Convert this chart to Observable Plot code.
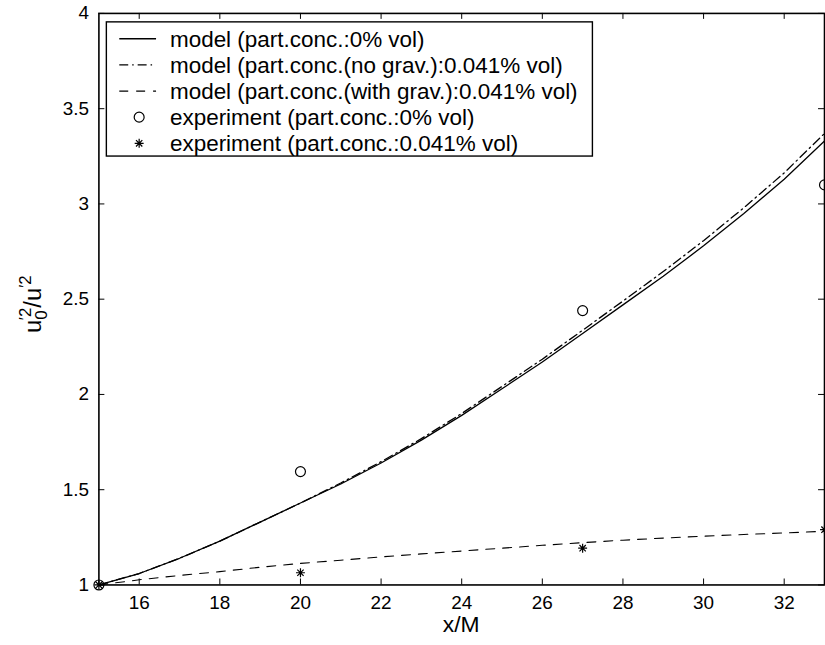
<!DOCTYPE html>
<html><head><meta charset="utf-8">
<script src="https://cdn.jsdelivr.net/npm/d3@7"></script>
<script src="https://cdn.jsdelivr.net/npm/@observablehq/plot@0.6"></script>
<style>
html,body{margin:0;padding:0;background:#fff;overflow:hidden;}
#chart{width:825px;height:645px;overflow:hidden;position:relative;}
#chart svg{display:block;}
</style></head><body><div id="chart"></div>
<script>
// ---- data ----
const xModel = [15,16,17,18,19,20,21,22,23,24,25,26,27,28,29,30,31,32,33];
const ySolid = [1.00,1.06,1.14,1.23,1.33,1.43,1.53,1.64,1.76,1.89,2.03,2.17,2.32,2.47,2.62,2.78,2.95,3.13,3.33];
const yNoGrav = [1.00,1.06,1.14,1.23,1.33,1.43,1.535,1.647,1.768,1.90,2.042,2.185,2.337,2.49,2.645,2.807,2.98,3.163,3.37];
const yWithGrav = [1.00,1.027,1.05,1.07,1.093,1.113,1.13,1.147,1.163,1.178,1.193,1.208,1.222,1.235,1.246,1.256,1.265,1.273,1.282];
const xExp = [15,20,27,33];
const yExp0 = [1.00,1.595,2.44,3.10];
const yExp041 = [1.00,1.064,1.193,1.29];
const xTicks = [16,18,20,22,24,26,28,30,32];
const yTicks = [1,1.5,2,2.5,3,3.5,4];
const xLabel = "x/M";
const legendLabels = [
  "model (part.conc.:0% vol)",
  "model (part.conc.(no grav.):0.041% vol)",
  "model (part.conc.(with grav.):0.041% vol)",
  "experiment (part.conc.:0% vol)",
  "experiment (part.conc.:0.041% vol)"
];

// ---- layout ----
const W = 830, H = 645, mL = 99, mR = 1, mT = 13, mB = 57;
const plotW = W - mL - mR, plotH = H - mT - mB, TK = 6;
const FONT = "'Liberation Sans', Arial, Helvetica, sans-serif";
const DASH = "9,8", DASHDOT = "9,4,1.5,4";

const asterisk8 = {draw(ctx, size){
  const r = Math.sqrt(size/Math.PI), d = r*Math.SQRT1_2;
  ctx.moveTo(-r,0);ctx.lineTo(r,0);ctx.moveTo(0,-r);ctx.lineTo(0,r);
  ctx.moveTo(-d,-d);ctx.lineTo(d,d);ctx.moveTo(-d,d);ctx.lineTo(d,-d);
}};

const model = xModel.map((x,i)=>({x, s:ySolid[i], n:yNoGrav[i], g:yWithGrav[i]}));
const exp0 = xExp.map((x,i)=>({x, y:yExp0[i]}));
const exp1 = xExp.map((x,i)=>({x, y:yExp041[i]}));

const chart = Plot.plot({
  width: W, height: H,
  marginLeft: mL, marginRight: mR, marginTop: mT, marginBottom: mB,
  style: {fontFamily: FONT, fontSize: "19px", background: "white", color: "black", overflow: "visible"},
  x: {domain: [15,33]},
  y: {domain: [1,4]},
  marks: [
    Plot.line(model, {x:"x", y:"s", stroke:"black", strokeWidth:1.3}),
    Plot.line(model, {x:"x", y:"n", stroke:"black", strokeWidth:1.3, strokeDasharray:DASHDOT}),
    Plot.line(model, {x:"x", y:"g", stroke:"black", strokeWidth:1.1, strokeDasharray:DASH}),
    Plot.dot(exp0, {x:"x", y:"y", r:5, stroke:"black", fill:"none", strokeWidth:1.2}),
    Plot.dot(exp1, {x:"x", y:"y", r:4.5, symbol:asterisk8, stroke:"black", fill:"none", strokeWidth:1.2}),
    Plot.tickX(xTicks, {x:d=>d, insetTop: plotH-TK, stroke:"black", strokeWidth:1}),
    Plot.tickX(xTicks, {x:d=>d, insetBottom: plotH-TK, stroke:"black", strokeWidth:1}),
    Plot.tickY(yTicks, {y:d=>d, insetRight: plotW-TK, stroke:"black", strokeWidth:1}),
    Plot.tickY(yTicks, {y:d=>d, insetLeft: plotW-TK, stroke:"black", strokeWidth:1}),
    Plot.frame({stroke:"black", strokeWidth:1.6}),
    Plot.axisX(xTicks, {tickSize:0, tickPadding:11, fontSize:19, label:null, tickFormat:d=>String(d)}),
    Plot.axisY(yTicks, {tickSize:0, tickPadding:10, fontSize:19, label:null, tickFormat:d=>String(d)})
  ]
});
document.getElementById("chart").appendChild(chart);

const svg = d3.select(chart);
svg.selectAll("g[aria-label='x-axis tick label'] text, g[aria-label='y-axis tick label'] text")
  .attr("font-size", 19);
svg.selectAll("g[aria-label='x-axis tick label'], g[aria-label='y-axis tick label']")
  .attr("font-size", 19);
// x label
svg.append("text").attr("x", mL + plotW/2).attr("y", 636)
  .attr("text-anchor","middle").attr("font-family",FONT).attr("font-size",23).attr("fill","black")
  .text(xLabel);
// y label with sub/superscripts
const yl = svg.append("text").attr("transform","translate(41,306) rotate(-90)")
  .attr("text-anchor","middle").attr("font-family",FONT).attr("font-size",24).attr("fill","black");
yl.append("tspan").text("u");
yl.append("tspan").attr("font-size",17).attr("dy",6).text("0");
yl.append("tspan").attr("font-size",17).attr("dx",-10).attr("dy",-16).text("\u2032");
yl.append("tspan").attr("font-size",17).text("2");
yl.append("tspan").attr("dy",10).text("/u");
yl.append("tspan").attr("font-size",17).attr("dy",-10).text("\u20322");

// legend
const lg = svg.append("g").attr("text-anchor","start");
lg.append("rect").attr("x",107).attr("y",22).attr("width",489).attr("height",135)
  .attr("fill","white").attr("stroke","black").attr("stroke-width",1.4);
const rowY = i => 39 + i*26.3;
const styles = [null, DASHDOT, DASH];
legendLabels.forEach((lab,i)=>{
  const y = rowY(i);
  if (i < 3) {
    lg.append("line").attr("x1",120).attr("x2",157).attr("y1",y).attr("y2",y)
      .attr("stroke","black").attr("stroke-width",1.3)
      .attr("stroke-dasharray", styles[i]);
  } else {
    const sym = d3.symbol().type(i===3 ? d3.symbolCircle : asterisk8).size(Math.PI*(i===3?25:20.25));
    lg.append("path").attr("d", sym()).attr("transform",`translate(140,${y})`)
      .attr("fill","none").attr("stroke","black").attr("stroke-width",1.2);
  }
  lg.append("text").attr("x",171).attr("y",y).attr("dy","0.36em").attr("text-anchor","start")
    .attr("font-family",FONT).attr("font-size",22.6).attr("fill","black").text(lab);
});
</script></body></html>
